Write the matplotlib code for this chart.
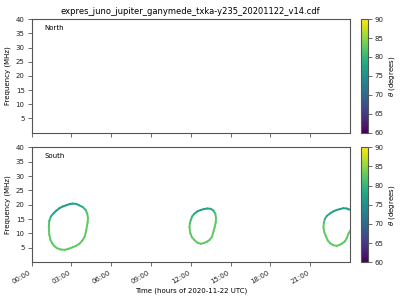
import matplotlib
matplotlib.use("Agg")
import matplotlib.pyplot as plt
import numpy as np
from matplotlib.collections import LineCollection

title = "expres_juno_jupiter_ganymede_txka-y235_20201122_v14.cdf"

# South hemisphere loops: time (hours), frequency (MHz), theta (deg)
loop1_t = [1.3, 1.33, 1.45, 1.65, 1.85, 2.1, 2.35, 2.6, 2.85, 3.08, 3.35, 3.6, 3.85, 4.08, 4.2, 4.25, 4.22, 4.12, 4.0, 3.82, 3.6, 3.35, 3.1, 2.8, 2.5, 2.2, 1.9, 1.7, 1.55, 1.42, 1.33, 1.3]
loop1_f = [12.2, 14.3, 15.9, 17.0, 17.9, 18.8, 19.4, 19.8, 20.2, 20.4, 20.3, 19.8, 19.2, 18.2, 16.8, 15.3, 13.8, 11.0, 8.9, 7.5, 6.4, 5.7, 5.2, 4.7, 4.3, 4.4, 4.9, 5.7, 6.6, 7.8, 9.6, 12.2]
loop1_th = [82.5, 81, 79.5, 78, 77, 76.5, 76.5, 76.5, 76.5, 76.5, 77, 78, 79, 80.5, 82, 82.5, 82.5, 82.5, 82.5, 82.5, 82.5, 82.5, 82.5, 82.5, 82.5, 82.5, 82.5, 82.5, 82.5, 82.5, 82.5, 82.5]

loop2_t = [11.9, 11.93, 12.0, 12.1, 12.25, 12.5, 12.75, 13.0, 13.25, 13.5, 13.7, 13.85, 13.9, 13.88, 13.8, 13.7, 13.6, 13.45, 13.25, 13.0, 12.75, 12.5, 12.25, 12.08, 11.97, 11.9]
loop2_f = [12.2, 13.6, 14.7, 15.9, 16.8, 17.7, 18.2, 18.5, 18.7, 18.6, 18.0, 16.9, 15.3, 13.8, 12.2, 10.5, 8.9, 7.9, 7.2, 6.7, 6.4, 6.8, 7.8, 8.7, 10.0, 12.2]
loop2_th = [82.5, 82, 81, 80, 79, 78, 77.5, 77.5, 77.5, 78, 79, 81, 82.5, 82.5, 82.5, 82.5, 82.5, 82.5, 82.5, 82.5, 82.5, 82.5, 82.5, 82.5, 82.5, 82.5]

loop3_t = [24.1, 23.9, 23.75, 23.6, 23.4, 23.2, 23.0, 22.75, 22.5, 22.32, 22.2, 22.06, 22.0, 22.03, 22.1, 22.25, 22.5, 22.75, 23.0, 23.25, 23.5, 23.75, 23.9, 24.1]
loop3_f = [11.6, 10.1, 8.3, 7.2, 6.5, 6.0, 5.7, 5.9, 6.6, 7.6, 8.9, 10.5, 12.2, 13.7, 15.0, 16.1, 17.0, 17.7, 18.2, 18.5, 18.8, 18.7, 18.4, 18.2]
loop3_th = [82.5, 82.5, 82.5, 82.5, 82.5, 82.5, 82.5, 82.5, 82.5, 82.5, 82.5, 82.5, 82.5, 82, 80.5, 79, 78, 77.5, 77, 77, 77, 77, 77, 77]

hour_ticks = [0, 3, 6, 9, 12, 15, 18, 21]
freq_ticks = [5, 10, 15, 20, 25, 30, 35, 40]
cbar_ticks = [60, 65, 70, 75, 80, 85, 90]

plt.rcParams["font.size"] = 5
plt.rcParams["axes.edgecolor"] = "#555555"
plt.rcParams["xtick.color"] = "#555555"
plt.rcParams["ytick.color"] = "#555555"
plt.rcParams["xtick.labelcolor"] = "#222222"
plt.rcParams["ytick.labelcolor"] = "#222222"

fig = plt.figure(figsize=(4, 3), dpi=100)
ax_n = fig.add_axes([0.079, 0.558, 0.796, 0.378])
ax_s = fig.add_axes([0.079, 0.126, 0.796, 0.383])
cax_n = fig.add_axes([0.902, 0.558, 0.0175, 0.378])
cax_s = fig.add_axes([0.902, 0.126, 0.0175, 0.383])

norm = plt.Normalize(60, 90)
cmap = plt.get_cmap("viridis")


def add_loop(ax, t, f, th):
    pts = np.column_stack([t, f])
    segs = np.stack([pts[:-1], pts[1:]], axis=1)
    vals = (np.array(th[:-1]) + np.array(th[1:])) / 2
    lc = LineCollection(segs, cmap=cmap, norm=norm, linewidths=1.4, capstyle="round")
    lc.set_array(vals)
    ax.add_collection(lc)
    return lc


for t, f, th in [(loop1_t, loop1_f, loop1_th), (loop2_t, loop2_f, loop2_th), (loop3_t, loop3_f, loop3_th)]:
    add_loop(ax_s, t, f, th)

for ax, label in [(ax_n, "North"), (ax_s, "South")]:
    ax.set_xlim(0, 24)
    ax.set_ylim(0, 40)
    ax.set_yticks(freq_ticks)
    ax.set_xticks(hour_ticks)
    ax.set_ylabel("Frequency (MHz)", fontsize=5, labelpad=3)
    ax.text(0.04, 0.92, label, transform=ax.transAxes, fontsize=5, va="center")
    ax.tick_params(length=3, width=0.6, pad=2)
    for sp in ax.spines.values():
        sp.set_linewidth(0.8)

ax_n.set_xticklabels([])
ax_s.set_xticklabels(["%02d:00" % h for h in hour_ticks], rotation=30, ha="right")
ax_s.set_xlabel("Time (hours of 2020-11-22 UTC)", fontsize=5, labelpad=2)
ax_n.set_title(title, fontsize=6, pad=4)

sm = plt.cm.ScalarMappable(norm=norm, cmap=cmap)
for cax in [cax_n, cax_s]:
    cb = fig.colorbar(sm, cax=cax)
    cb.set_ticks(cbar_ticks)
    cb.set_label(r"$\theta$ (degrees)", fontsize=5, labelpad=2)
    cb.ax.tick_params(length=3, width=0.6, pad=2)
    cb.outline.set_linewidth(0.8)

fig.savefig("out.png", dpi=100)
